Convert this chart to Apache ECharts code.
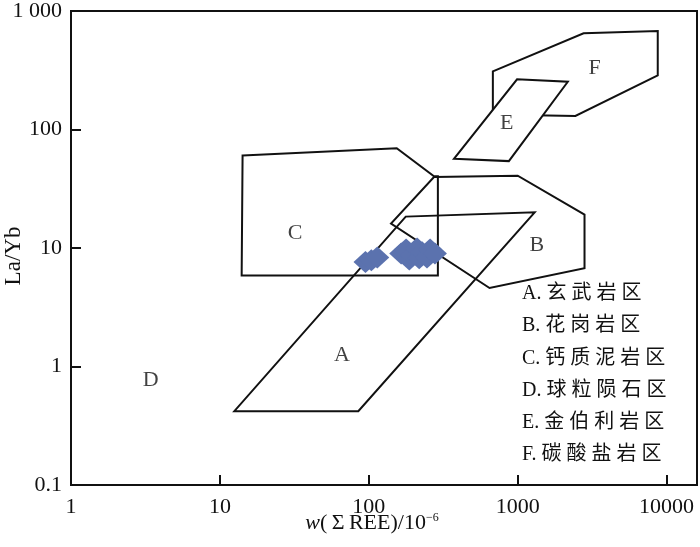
<!DOCTYPE html>
<html>
<head>
<meta charset="utf-8">
<script src="https://cdn.jsdelivr.net/npm/echarts@6/dist/echarts.min.js"></script>
<style>
  html, body { margin: 0; padding: 0; background: #fff; }
  #chart { width: 700px; height: 547px; }
</style>
</head>
<body>
<div id="chart"></div>
<script>
  // 坐标轴刻度
  var xTicks = [1, 10, 100, 1000, 10000]
  var xTickLabels = ['1', '10', '100', '1000', '10000']
  var yTicks = [0.1, 1, 10, 100, 1000]
  var yTickLabels = ['0.1', '1', '10', '100', '1 000']

  // 各判别区边界 [ΣREE, La/Yb]
  var regionA = [[12.5, 0.42], [85, 0.42], [1300, 20], [177, 18.4]]
  var regionB = [[274, 39.7], [1000, 40.8], [2810, 19.1], [2810, 6.75], [647, 4.6], [141, 16.1]]
  var regionC = [[14.2, 60.3], [154, 69.4], [274, 40.3], [291, 40.3], [291, 5.87], [14, 5.87]]
  var regionF = [[681, 309], [2770, 648], [8720, 678], [8720, 286], [2440, 130], [681, 134]]
  var regionE = [[373, 56.6], [872, 54.1], [2170, 253], [990, 265]]

  // 区域字母标注
  var regionNames = ['A', 'B', 'C', 'D', 'E', 'F']
  var regionLabelPos = [[66, 1.25], [1343, 10.5], [32, 13.2], [3.43, 0.76], [845, 112], [3283, 330]]

  // 图例文字
  var legendItems = ['A.玄武岩区', 'B.花岗岩区', 'C.钙质泥岩区', 'D.球粒陨石区', 'E.金伯利岩区', 'F.碳酸盐岩区']

  // 样品点
  var samples = [
    [95, 7.6], [104, 7.9], [114, 8.3],
    [165, 9.0], [178, 9.7], [187, 8.0], [195, 8.7], [211, 9.9],
    [218, 8.2], [228, 9.2], [246, 8.3], [258, 9.7], [278, 9.0]
  ]

  var serif = '"Liberation Serif", "Noto Sans CJK SC", serif'

  function tickLabel (ticks, labels) {
    return function (v) {
      for (var i = 0; i < ticks.length; i++) {
        if (Math.abs(Math.log10(v) - Math.log10(ticks[i])) < 1e-6) return labels[i]
      }
      return ''
    }
  }

  function polygonSeries (points, fill) {
    return {
      type: 'custom',
      coordinateSystem: 'cartesian2d',
      silent: true,
      clip: false,
      data: [points[0]],
      renderItem: function (params, api) {
        return {
          type: 'polygon',
          shape: { points: points.map(function (p) { return api.coord(p) }) },
          style: { fill: fill, stroke: '#111', lineWidth: 2, lineJoin: 'miter' }
        }
      }
    }
  }

  var legendGraphics = legendItems.map(function (t, i) {
    var head = t.slice(0, 2)
    var rest = t.slice(2).split('').join('\u2005')
    return {
      type: 'text',
      x: 522,
      y: 294 + i * 32.2,
      silent: true,
      style: {
        text: head + '\u2005' + rest,
        font: '20px ' + serif,
        fill: '#111',
        align: 'left',
        verticalAlign: 'middle'
      }
    }
  })

  var chart = echarts.init(document.getElementById('chart'), null, { renderer: 'canvas' })
  chart.setOption({
    animation: false,
    grid: {
      left: 71,
      top: 5,
      right: 2,
      bottom: 62,
      show: true,
      borderColor: '#111',
      borderWidth: 2,
      backgroundColor: 'transparent'
    },
    xAxis: {
      type: 'log',
      logBase: 10,
      min: 1,
      max: 16000,
      axisLine: { lineStyle: { color: '#111', width: 2 } },
      axisTick: { inside: true, length: 10, lineStyle: { color: '#111', width: 2 } },
      minorTick: { show: false },
      splitLine: { show: false },
      axisLabel: {
        margin: 11,
        color: '#111',
        fontFamily: serif,
        fontSize: 22,
        formatter: tickLabel(xTicks, xTickLabels)
      }
    },
    yAxis: {
      type: 'log',
      logBase: 10,
      min: 0.1,
      max: 1000,
      axisLine: { lineStyle: { color: '#111', width: 2 } },
      axisTick: { inside: true, length: 10, lineStyle: { color: '#111', width: 2 } },
      splitLine: { show: false },
      axisLabel: {
        margin: 9,
        color: '#111',
        fontFamily: serif,
        fontSize: 22,
        formatter: tickLabel(yTicks, yTickLabels)
      }
    },
    graphic: legendGraphics.concat([
      {
        type: 'text',
        x: 372,
        y: 523,
        silent: true,
        style: {
          text: '{i|w}(\u2009\u03a3\u2009REE)/10{s|\u22126}',
          font: '22px ' + serif,
          fill: '#111',
          align: 'center',
          verticalAlign: 'middle',
          rich: {
            i: { fontStyle: 'italic', fontFamily: serif, fontSize: 22 },
            s: { fontFamily: serif, fontSize: 12, verticalAlign: 'top' }
          }
        }
      },
      {
        type: 'text',
        x: 14,
        y: 256,
        rotation: Math.PI / 2,
        silent: true,
        style: {
          text: 'La/Yb',
          font: '23px ' + serif,
          fill: '#111',
          align: 'center',
          verticalAlign: 'middle'
        }
      }
    ]),
    series: [
      polygonSeries(regionA, 'none'),
      polygonSeries(regionB, 'none'),
      polygonSeries(regionC, 'none'),
      polygonSeries(regionF, 'none'),
      polygonSeries(regionE, '#fff'),
      {
        type: 'scatter',
        silent: true,
        symbolSize: 1,
        itemStyle: { color: 'rgba(0,0,0,0)' },
        data: regionNames.map(function (n, i) {
          return { name: n, value: regionLabelPos[i] }
        }),
        label: {
          show: true,
          position: 'inside',
          formatter: '{b}',
          color: '#111',
          fontFamily: serif,
          fontSize: 22
        }
      },
      {
        type: 'scatter',
        silent: true,
        symbol: 'diamond',
        symbolSize: [24, 22],
        itemStyle: { color: '#5b72ae', opacity: 1 },
        data: samples
      }
    ]
  })
</script>
</body>
</html>
